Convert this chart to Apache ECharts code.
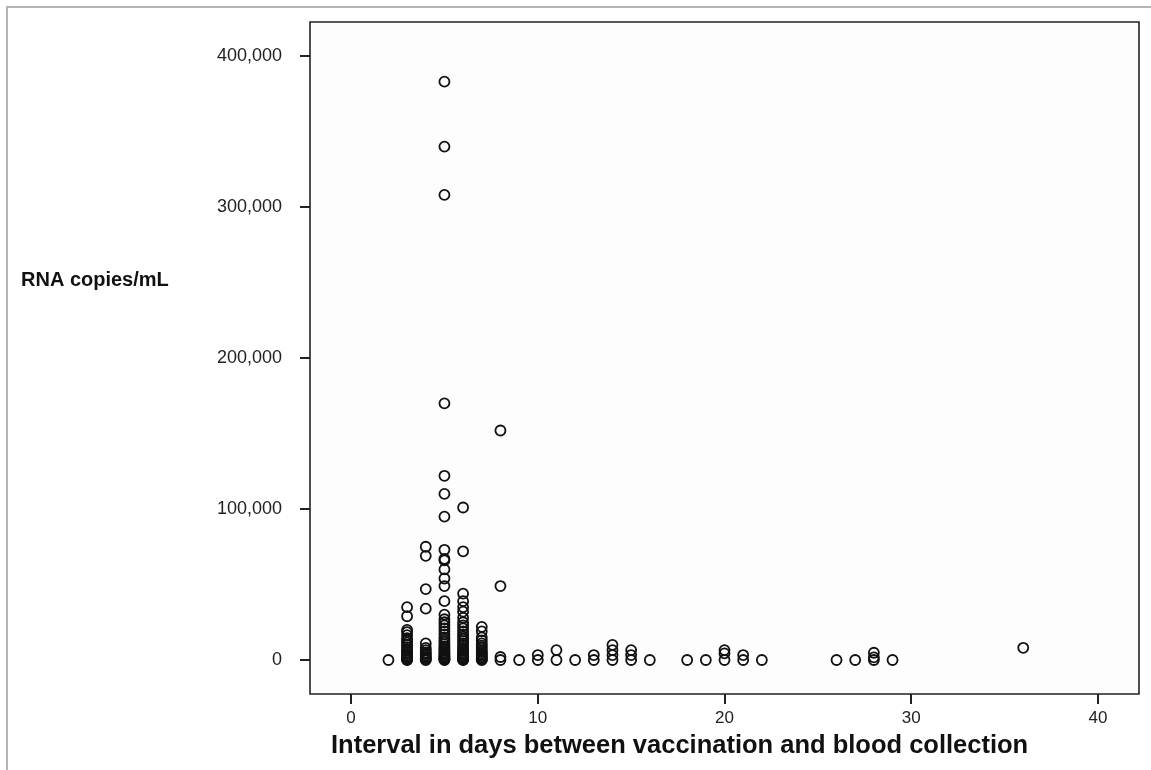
<!DOCTYPE html>
<html>
<head>
<meta charset="utf-8">
<script src="https://cdn.jsdelivr.net/npm/echarts@6/dist/echarts.min.js"></script>
<style>
  html, body { margin: 0; padding: 0; background: #fff; }
  #container { width: 1151px; height: 770px; }
</style>
</head>
<body>
<div id="container"></div>
<script>
var days = [2, 3, 4, 5, 6, 7, 8, 9, 10, 11, 12, 13, 14, 15, 16, 18, 19, 20, 21, 22, 26, 27, 28, 29, 36];
var copiesByDay = [
  [0],
  [0, 300, 800, 1500, 2200, 3000, 4000, 5000, 6000, 7000, 8500, 10000, 11500, 13000, 14500, 16500, 18500, 20000, 29000, 35000],
  [0, 500, 1200, 2000, 3000, 4000, 5000, 6500, 8000, 11000, 34000, 47000, 69000, 75000],
  [0, 300, 700, 1200, 1800, 2500, 3200, 4000, 5000, 6000, 7000, 8000, 9000, 10500, 12000, 13500, 15000, 17000, 19000, 21000, 23000, 25000, 27000, 30000, 39000, 49000, 54000, 60000, 66000, 67000, 73000, 95000, 110000, 122000, 170000, 308000, 340000, 383000],
  [0, 300, 700, 1200, 1800, 2500, 3200, 4000, 5000, 6000, 7000, 8000, 9500, 11000, 12500, 14000, 15500, 17000, 19000, 21000, 23000, 25000, 28000, 32000, 35000, 39000, 44000, 72000, 101000],
  [0, 400, 1000, 1800, 2600, 3500, 4500, 5500, 6500, 8000, 9500, 11000, 13000, 15000, 19000, 22000],
  [0, 2000, 49000, 152000],
  [0],
  [0, 3300],
  [0, 6600],
  [0],
  [0, 3300],
  [0, 3300, 6600, 10000],
  [0, 3300, 6600],
  [0],
  [0],
  [0],
  [0, 4400, 6600],
  [0, 3300],
  [0],
  [0],
  [0],
  [0, 1800, 4800],
  [0],
  [8100]
];
var xTicks = [0, 10, 20, 30, 40];
var yTicks = [0, 100000, 200000, 300000, 400000];

var points = [];
days.forEach(function (d, i) {
  copiesByDay[i].forEach(function (v) { points.push([d, v]); });
});

var dom = document.getElementById('container');
var myChart = echarts.init(dom, null, { renderer: 'canvas' });

function commas(v) {
  return String(v).replace(/\B(?=(\d{3})+(?!\d))/g, ',');
}

var option = {
  backgroundColor: '#fff',
  animation: false,
  grid: {
    left: 310,
    top: 22,
    right: 12,
    bottom: 76,
    show: true,
    backgroundColor: '#fdfdfd',
    borderColor: '#222',
    borderWidth: 1.6,
    outerBoundsMode: 'none'
  },
  xAxis: {
    type: 'value',
    min: -2.2,
    max: 42.2,
    splitLine: { show: false },
    axisLine: { show: false, onZero: false },
    axisTick: {
      show: true, length: 10, customValues: xTicks,
      lineStyle: { color: '#222', width: 2 }
    },
    axisLabel: {
      customValues: xTicks,
      margin: 16,
      color: '#222',
      fontFamily: 'Liberation Sans',
      fontSize: 17
    }
  },
  yAxis: {
    type: 'value',
    min: -22500,
    max: 422500,
    splitLine: { show: false },
    axisLine: { show: false, onZero: false },
    axisTick: {
      show: true, length: 10, customValues: yTicks,
      lineStyle: { color: '#222', width: 2 }
    },
    axisLabel: {
      customValues: yTicks,
      margin: 28,
      color: '#222',
      fontFamily: 'Liberation Sans',
      fontSize: 18,
      formatter: commas
    }
  },
  graphic: [
    {
      type: 'rect',
      silent: true,
      shape: { x: 7, y: 7, width: 1300, height: 900 },
      style: { fill: null, stroke: '#b5b5b5', lineWidth: 2 }
    },
    {
      type: 'text',
      x: 21,
      y: 280,
      style: {
        text: 'RNA copies/mL',
        fill: '#111',
        font: 'bold 20px "Liberation Sans"',
        verticalAlign: 'middle'
      }
    },
    {
      type: 'text',
      x: 331,
      y: 746,
      style: {
        text: 'Interval in days between vaccination and blood collection',
        fill: '#111',
        font: 'bold 25.5px "Liberation Sans"',
        verticalAlign: 'middle'
      }
    }
  ],
  series: [
    {
      type: 'scatter',
      data: points,
      symbol: 'circle',
      symbolSize: 10,
      itemStyle: {
        color: 'rgba(0,0,0,0)',
        borderColor: '#111',
        borderWidth: 1.8,
        opacity: 1
      }
    }
  ]
};

if (option && typeof option === 'object') {
  myChart.setOption(option, true);
}
</script>
</body>
</html>
